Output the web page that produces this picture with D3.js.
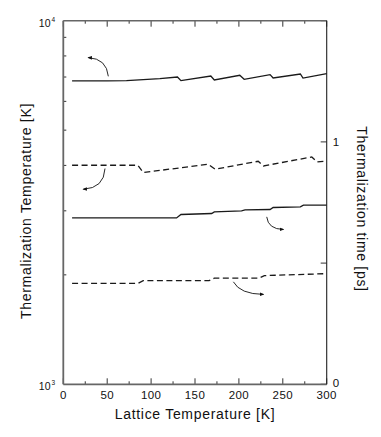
<!DOCTYPE html>
<html>
<head>
<meta charset="utf-8">
<script src="https://cdn.jsdelivr.net/npm/d3@7"></script>
<style>
  body { margin: 0; background: #fff; }
  text { font-family: "Liberation Sans", Arial, sans-serif; fill: #111; }
</style>
</head>
<body>
<script>
// lattice temperature [K] and thermalization temperature [K] (left axis)
const tempSolidX = [10, 50, 72, 110, 130, 134, 168, 172, 201, 206, 235.5, 239, 270, 273, 300];
const tempSolidY = [6830, 6830, 6840, 6930, 7000, 6840, 7045, 6870, 7076, 6900, 7107, 6956, 7135, 6956, 7153];

const tempDashedX = [10, 85, 91, 165, 173, 222, 228, 283, 289, 300];
const tempDashedY = [4004, 4004, 3823, 4029, 3905, 4106, 3986, 4220, 4088, 4114];

// thermalization time [ps] (right axis)
const timeSolidX = [10, 129, 134, 169, 172, 203, 207, 235.5, 239, 270, 273.5, 300];
const timeSolidY = [0.6865, 0.6865, 0.7005, 0.7047, 0.7113, 0.7154, 0.7195, 0.7211, 0.7294, 0.7319, 0.7389, 0.7389];

const timeDashedX = [10, 85, 91, 166, 172, 223, 229, 300];
const timeDashedY = [0.4162, 0.4162, 0.4277, 0.4277, 0.438, 0.438, 0.4483, 0.4566];

const xTicks = [0, 50, 100, 150, 200, 250, 300];
const xMinorTicks = [25, 75, 125, 175, 225, 275];
const leftDecades = [1000, 10000];
const leftMinor = [2000, 3000, 4000, 5000, 6000, 7000, 8000, 9000];
const rightTicks = [0, 0.5, 1, 1.5];
const rightTickLabels = ["0", "", "1", ""];

// arrows: [start, control, end] as [K, value], axis they point to
const arrows = [
  { axis: "left", pts: [[51.3, 7031], [49.4, 7863], [28.5, 7914]] },
  { axis: "left", pts: [[47.5, 3921], [46.4, 3462], [22.8, 3440]] },
  { axis: "right", pts: [[231.7, 0.6907], [233.2, 0.640], [250.7, 0.6387]] },
  { axis: "right", pts: [[193.7, 0.4228], [201.3, 0.3721], [227.9, 0.3709]] }
];

const width = 381;
const height = 437;
const margin = { top: 20.7, right: 54.3, bottom: 52.7, left: 63.3 };

const svg = d3.select("body").append("svg")
  .attr("width", width)
  .attr("height", height);

const x = d3.scaleLinear().domain([0, 300]).range([margin.left, width - margin.right]);
const yLeft = d3.scaleLog().domain([1000, 10000]).range([height - margin.bottom, margin.top]);
const yRight = d3.scaleLinear().domain([0, 1.5]).range([height - margin.bottom, margin.top]);

const x0 = x.range()[0], x1 = x.range()[1];
const yb = yLeft.range()[0], yt = yLeft.range()[1];

svg.append("defs").append("marker")
  .attr("id", "head")
  .attr("viewBox", "0 0 10 10")
  .attr("refX", 8).attr("refY", 5)
  .attr("markerWidth", 5).attr("markerHeight", 5)
  .attr("orient", "auto")
  .append("path")
  .attr("d", "M0,1 L10,5 L0,9 Z")
  .attr("fill", "#111");

// ticks (drawn inward)
const tickG = svg.append("g").attr("stroke", "#333").attr("stroke-width", 1);
xTicks.forEach(v => {
  tickG.append("line").attr("x1", x(v)).attr("x2", x(v)).attr("y1", yb).attr("y2", yb - 6);
  tickG.append("line").attr("x1", x(v)).attr("x2", x(v)).attr("y1", yt).attr("y2", yt + 6);
});
xMinorTicks.forEach(v => {
  tickG.append("line").attr("x1", x(v)).attr("x2", x(v)).attr("y1", yb).attr("y2", yb - 3);
  tickG.append("line").attr("x1", x(v)).attr("x2", x(v)).attr("y1", yt).attr("y2", yt + 3);
});
leftMinor.forEach(v => {
  tickG.append("line").attr("x1", x0).attr("x2", x0 + 3).attr("y1", yLeft(v)).attr("y2", yLeft(v));
});
rightTicks.forEach(v => {
  tickG.append("line").attr("x1", x1).attr("x2", x1 - 6).attr("y1", yRight(v)).attr("y2", yRight(v));
});

// frame
svg.append("line").attr("x1", x0).attr("x2", x0).attr("y1", yt).attr("y2", yb)
  .attr("stroke", "#666").attr("stroke-width", 1.8);
svg.append("line").attr("x1", x0).attr("x2", x1).attr("y1", yb).attr("y2", yb)
  .attr("stroke", "#666").attr("stroke-width", 1.8);
svg.append("line").attr("x1", x0).attr("x2", x1).attr("y1", yt).attr("y2", yt)
  .attr("stroke", "#666").attr("stroke-width", 1.5);
svg.append("line").attr("x1", x1).attr("x2", x1).attr("y1", yt).attr("y2", yb)
  .attr("stroke", "#222").attr("stroke-width", 1.1);

// curves
function drawSeries(xs, ys, yScale, dashed) {
  const line = d3.line().x(d => x(d[0])).y(d => yScale(d[1]));
  svg.append("path")
    .datum(xs.map((v, i) => [v, ys[i]]))
    .attr("d", line)
    .attr("fill", "none")
    .attr("stroke", "#1a1a1a")
    .attr("stroke-width", 1.3)
    .attr("stroke-dasharray", dashed ? "6,3.5" : null);
}
drawSeries(tempSolidX, tempSolidY, yLeft, false);
drawSeries(tempDashedX, tempDashedY, yLeft, true);
drawSeries(timeSolidX, timeSolidY, yRight, false);
drawSeries(timeDashedX, timeDashedY, yRight, true);

// arrows
arrows.forEach(a => {
  const ys = a.axis === "left" ? yLeft : yRight;
  const p = a.pts.map(d => [x(d[0]), ys(d[1])]);
  svg.append("path")
    .attr("d", `M${p[0][0]},${p[0][1]} Q${p[1][0]},${p[1][1]} ${p[2][0]},${p[2][1]}`)
    .attr("fill", "none")
    .attr("stroke", "#111")
    .attr("stroke-width", 0.9)
    .attr("marker-end", "url(#head)");
});

// tick labels
xTicks.forEach(v => {
  svg.append("text").attr("x", x(v)).attr("y", 399)
    .attr("text-anchor", "middle").style("font-size", "11.5px")
    .style("letter-spacing", "0.4px").text(v);
});
leftDecades.forEach(v => {
  const yy = yLeft(v) + 6;
  svg.append("text").attr("x", 50.5).attr("y", yy)
    .attr("text-anchor", "end").style("font-size", "10.5px").text("10");
  svg.append("text").attr("x", 51.5).attr("y", yy - 5)
    .style("font-size", "6.5px").text(Math.round(Math.log10(v)));
});
rightTicks.forEach((v, i) => {
  if (!rightTickLabels[i]) return;
  svg.append("text").attr("x", x1 + 6).attr("y", yRight(v) + (v === 0 ? 2.5 : 4.5))
    .style("font-size", "11.5px").text(rightTickLabels[i]);
});

// axis titles
svg.append("text")
  .attr("x", (x0 + x1) / 2).attr("y", 419)
  .attr("text-anchor", "middle")
  .style("font-size", "14px").style("letter-spacing", "0.7px")
  .text("Lattice Temperature [K]");

svg.append("text")
  .attr("transform", `translate(30.5,211) rotate(-90)`)
  .attr("text-anchor", "middle")
  .style("font-size", "14px").style("letter-spacing", "0.7px")
  .text("Thermalization Temperature [K]");

svg.append("text")
  .attr("transform", `translate(356.5,209) rotate(90)`)
  .attr("text-anchor", "middle")
  .style("font-size", "14px").style("letter-spacing", "0.7px")
  .text("Thermalization time [ps]");
</script>
</body>
</html>
